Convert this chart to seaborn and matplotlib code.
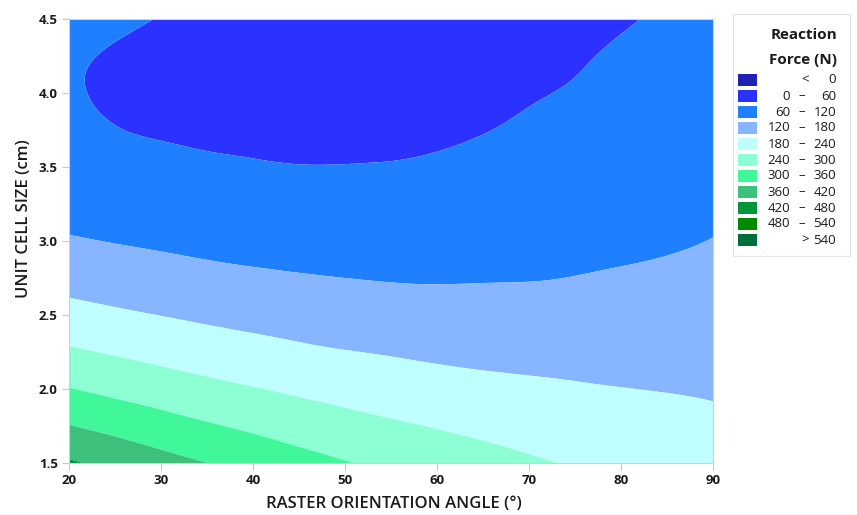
import numpy as np
import pandas as pd
import matplotlib
matplotlib.use("Agg")
import matplotlib.pyplot as plt
import matplotlib.tri as mtri
from matplotlib.patches import Rectangle
import seaborn as sns

# ---- data ----
angles = [20, 25, 30, 35, 40, 45, 50, 55, 60, 65, 70, 75, 80, 85, 90]
cell_sizes = [4.50, 4.25, 4.00, 3.75, 3.50, 3.25, 3.00, 2.75, 2.50, 2.25, 2.00, 1.75, 1.50]
force_450 = [70, 65, 59, 53, 47, 42, 39, 38, 39, 42, 46, 51, 57, 65, 75]
force_425 = [63, 58, 53, 48, 44, 41, 40, 40, 42, 46, 51, 57, 64, 73, 84]
force_400 = [62, 57, 53, 49, 46, 44, 43, 44, 47, 51, 57, 63, 71, 81, 92]
force_375 = [67, 61, 57, 54, 52, 50, 50, 51, 55, 59, 65, 72, 80, 89, 99]
force_350 = [79, 74, 70, 66, 63, 61, 61, 62, 64, 68, 73, 80, 88, 97, 106]
force_325 = [98, 93, 87, 83, 79, 77, 76, 76, 77, 81, 85, 91, 98, 106, 114]
force_300 = [125, 118, 112, 106, 101, 98, 95, 94, 95, 97, 100, 105, 110, 115, 121]
force_275 = [159, 150, 142, 135, 129, 124, 120, 117, 116, 117, 118, 121, 125, 129, 134]
force_250 = [200, 189, 179, 170, 162, 155, 149, 144, 141, 140, 139, 140, 142, 144, 146]
force_225 = [248, 235, 222, 210, 200, 190, 182, 176, 170, 166, 163, 162, 161, 160, 160]
force_200 = [302, 286, 271, 256, 243, 231, 220, 210, 202, 195, 190, 185, 181, 178, 175]
force_175 = [362, 343, 324, 306, 290, 274, 260, 248, 237, 227, 218, 210, 203, 197, 190]
force_150 = [427, 404, 381, 360, 340, 321, 303, 287, 273, 260, 247, 236, 226, 215, 205]

level_edges = [0, 60, 120, 180, 240, 300, 360, 420, 480, 540]
band_colors = ["#2121B3", "#2B31FF", "#1E80FF", "#87B5FF", "#C0FFFF", "#8CFFD5",
               "#40F79A", "#3CC07C", "#00963C", "#008A00", "#00703A"]

rows = [force_450, force_425, force_400, force_375, force_350, force_325, force_300,
        force_275, force_250, force_225, force_200, force_175, force_150]
df = pd.DataFrame(rows, index=cell_sizes, columns=angles)
long = df.stack().reset_index()
long.columns = ["size", "angle", "force"]

sns.set_theme(style="white")
plt.rcParams["font.family"] = ["Open Sans", "DejaVu Sans"]

fig = plt.figure(figsize=(8.57, 5.15), dpi=100)
ax = fig.add_axes([69/857, 52/515, 644/857, 444/515])

# smooth the grid with matplotlib's cubic refiner, in a square-celled frame
yscale = 20.0
tri_s = mtri.Triangulation(long["angle"].to_numpy(float), long["size"].to_numpy(float) * yscale)
tri_rs, z_r = mtri.UniformTriRefiner(tri_s).refine_field(long["force"].to_numpy(float), subdiv=4)
tri_r = mtri.Triangulation(tri_rs.x, tri_rs.y / yscale, tri_rs.triangles)
levels = [-1e6] + level_edges + [1e6]
ax.tricontourf(tri_r, z_r, levels=levels, colors=band_colors, antialiased=True)

ax.set_xlim(20, 90)
ax.set_ylim(1.5, 4.5)
ax.set_xticks(range(20, 91, 10))
ax.set_yticks([1.5, 2.0, 2.5, 3.0, 3.5, 4.0, 4.5])
ax.set_yticklabels([f"{v:.1f}" for v in [1.5, 2.0, 2.5, 3.0, 3.5, 4.0, 4.5]])
for s in ax.spines.values():
    s.set_color("#d0d0d0")
    s.set_linewidth(0.8)
ax.tick_params(axis="both", which="both", direction="out", length=5, width=0.8,
               color="#c8c8c8", labelsize=9.5, labelcolor="#1a1a1a", pad=3,
               bottom=True, left=True)
for lab in ax.get_xticklabels() + ax.get_yticklabels():
    lab.set_fontweight("bold")
ax.set_xlabel("RASTER ORIENTATION ANGLE (°)", fontsize=12, fontweight="semibold",
              color="#1a1a1a", labelpad=4)
ax.set_ylabel("UNIT CELL SIZE (cm)", fontsize=12, fontweight="semibold",
              color="#1a1a1a", labelpad=8)
ax.yaxis.set_label_coords(-0.058, 0.55)
ax.xaxis.set_label_coords(0.505, -0.075)

# ---- legend ----
W, H = 857, 515
def fx(px): return px / W
def fy(py): return 1 - py / H

fig.patches.append(Rectangle((fx(733), fy(256)), fx(117), (256 - 14) / H,
                             transform=fig.transFigure, facecolor="white",
                             edgecolor="#e4e4e4", linewidth=0.8))
fig.text(fx(837), fy(35), "Reaction", ha="right", va="center", fontsize=11,
         fontweight="bold", color="#1a1a1a")
fig.text(fx(837), fy(60), "Force (N)", ha="right", va="center", fontsize=11,
         fontweight="bold", color="#1a1a1a")
labels_lo = ["<"] + [str(v) for v in level_edges[:-1]] + [">"]
labels_hi = [str(level_edges[0])] + [str(v) for v in level_edges[1:]] + [str(level_edges[-1])]
for i, col in enumerate(band_colors):
    cy = 80 + 16 * i
    fig.patches.append(Rectangle((fx(738), fy(cy + 6)), fx(19), 12 / H,
                                 transform=fig.transFigure, facecolor=col,
                                 edgecolor="none"))
    fig.text(fx(836), fy(cy), labels_hi[i], ha="right", va="center", fontsize=9.5,
             color="#1a1a1a")
    if labels_lo[i] in ("<", ">"):
        fig.text(fx(805), fy(cy), labels_lo[i], ha="center", va="center", fontsize=9.5,
                 color="#1a1a1a")
    else:
        fig.text(fx(790), fy(cy), labels_lo[i], ha="right", va="center", fontsize=9.5,
                 color="#1a1a1a")
        fig.text(fx(802), fy(cy), "–", ha="center", va="center", fontsize=9.5,
                 color="#1a1a1a")

fig.savefig("out.png", dpi=100)
